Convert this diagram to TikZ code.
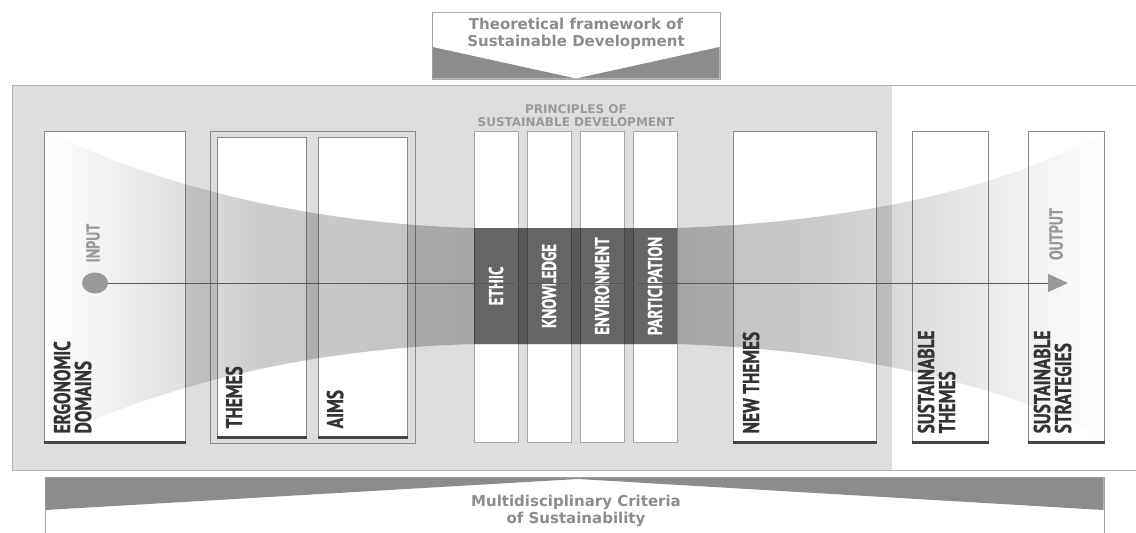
\documentclass[tikz,border=0pt]{standalone}
\usepackage{fontspec}
\setsansfont{DejaVu Sans}
\newfontfamily\condfont[FakeStretch=0.75, BoldFeatures={FakeBold=0.8}]{PT Sans}
\usepackage{tikz}
\usetikzlibrary{arrows.meta,shapes.geometric}

\definecolor{panelgray}{HTML}{DEDEDE}
\definecolor{edgegray}{HTML}{8A8A8A}
\definecolor{darkbar}{HTML}{444444}
\definecolor{labelgray}{HTML}{333333}
\definecolor{bandgray}{HTML}{8C8C8C}

\pgfdeclarehorizontalshading{funnelshade}{100bp}{color(0bp)=(white); color(25bp)=(white);
  color(35bp)=(black!20); color(45bp)=(black!25); color(55bp)=(black!25);
  color(61bp)=(black!21); color(75bp)=(white); color(100bp)=(white)}

\begin{document}
\begin{tikzpicture}[x=1pt, y=-1pt,
    box/.style = {draw=edgegray, fill=white, line width=1pt, inner sep=0pt},
    pbox/.style = {draw=black!35, fill=white, line width=.8pt, inner sep=0pt, minimum width=44pt, minimum height=311pt},
    lab/.style = {font=\condfont\bfseries\fontsize{23}{21}\selectfont, text=labelgray, rotate=90, anchor=north west, align=left, inner sep=0pt},
    plab/.style = {font=\condfont\bfseries\fontsize{20}{20}\selectfont, text=white, rotate=90, inner sep=0pt},
    io/.style = {font=\condfont\bfseries\fontsize{19}{19}\selectfont, text=black!40, rotate=90, inner sep=0pt},
    base/.style = {draw=darkbar, line width=3pt},
    head/.style = {font=\sffamily\bfseries\fontsize{15}{17}\selectfont, text=black!45, align=center, inner sep=0pt}]
        \useasboundingbox (0,0) rectangle (1136,533);

        % panel
        \fill[panelgray] (12,85) rectangle (892,470);
        \draw[black!30, line width=1pt] (1136,85) -- (12,85) -- (12,470) -- (1136,470);

        % theoretical framework
        \node[draw=black!35, fill=white, line width=1pt, minimum width=288pt, minimum height=67pt, inner sep=0pt] (frame) at (576,45.5) {};
        \fill[bandgray] (432.5,47) -- (576,78.5) -- (432.5,78.5) -- cycle;
        \fill[bandgray] (719.5,47) -- (576,78.5) -- (719.5,78.5) -- cycle;
        \node[head] (theory) at (576,34) {Theoretical framework of\\Sustainable Development};

        % multidisciplinary criteria
        \node[draw=black!35, fill=white, line width=1pt, minimum width=1059pt, minimum height=70pt, inner sep=0pt] (criteria) at (574.5,512) {};
        \fill[bandgray] (45.5,477.5) -- (45.5,510) -- (578,479) -- (1103.5,510) -- (1103.5,477.5) -- cycle;
        \node[head] (crit) at (576,511) {Multidisciplinary Criteria\\of Sustainability};

        % boxes
        \node[box, minimum width=141pt, minimum height=312pt] (erg) at (114.5,287) {};
        \node[box, minimum width=205pt, minimum height=312pt, fill=panelgray] (grp) at (312.5,287) {};
        \node[box, minimum width=89pt, minimum height=301pt] (thm) at (261.5,287.5) {};
        \node[box, minimum width=89pt, minimum height=301pt] (aim) at (362.5,287.5) {};
        \node[box, minimum width=143pt, minimum height=312pt] (new) at (804.5,287) {};
        \node[box, minimum width=76pt, minimum height=312pt] (sth) at (950,287) {};
        \node[box, minimum width=76pt, minimum height=312pt] (sst) at (1066,287) {};

        % principles
        \node[head, font=\sffamily\bfseries\fontsize{12}{13}\selectfont, text=black!40] (princ) at (576,116) {PRINCIPLES OF\\SUSTAINABLE DEVELOPMENT};
        \node[pbox] (eth) at (496,286.5) {};
        \node[pbox] (kno) at (549,286.5) {};
        \node[pbox] (env) at (602,286.5) {};
        \node[pbox] (par) at (655,286.5) {};

        % funnel
        \path[save path=\funnel] (50,133) .. controls (180,195) and (330,224) .. (474,228)
            -- (677,228) .. controls (850,222) and (1000,190) .. (1104,133)
            -- (1104,439) .. controls (1000,382) and (850,350) .. (677,344)
            -- (474,344) .. controls (330,348) and (180,377) .. (50,439) -- cycle;
        \begin{scope}[blend mode=multiply]
            \shade[shading=funnelshade] (50,133) .. controls (180,195) and (330,224) .. (474,228)
                -- (677,228) .. controls (850,222) and (1000,190) .. (1104,133)
                -- (1104,439) .. controls (1000,382) and (850,350) .. (677,344)
                -- (474,344) .. controls (330,348) and (180,377) .. (50,439) -- cycle;
            \begin{scope}
                \clip[use path=\funnel];
                \fill[black!47] (474,100) rectangle (677,460);
            \end{scope}
        \end{scope}

        % bottom bars
        \draw[base] ([yshift=1.5pt]erg.south west) -- ([yshift=1.5pt]erg.south east);
        \draw[base] ([yshift=1.5pt]thm.south west) -- ([yshift=1.5pt]thm.south east);
        \draw[base] ([yshift=1.5pt]aim.south west) -- ([yshift=1.5pt]aim.south east);
        \draw[base] ([yshift=1.5pt]new.south west) -- ([yshift=1.5pt]new.south east);
        \draw[base] ([yshift=1.5pt]sth.south west) -- ([yshift=1.5pt]sth.south east);
        \draw[base] ([yshift=1.5pt]sst.south west) -- ([yshift=1.5pt]sst.south east);

        % labels
        \node[lab] (ergl) at ([shift={(10pt,10pt)}]erg.south west) {ERGONOMIC\\DOMAINS};
        \node[lab] (thml) at ([shift={(9pt,10pt)}]thm.south west) {THEMES};
        \node[lab] (aiml) at ([shift={(9pt,10pt)}]aim.south west) {AIMS};
        \node[lab] (newl) at ([shift={(10pt,10pt)}]new.south west) {NEW THEMES};
        \node[lab] (sthl) at ([shift={(6pt,10pt)}]sth.south west) {SUSTAINABLE\\THEMES};
        \node[lab] (sstl) at ([shift={(6pt,10pt)}]sst.south west) {SUSTAINABLE\\STRATEGIES};
        \node[plab] (ethl) at (496,286) {ETHIC};
        \node[plab] (knol) at (549,286) {KNOWLEDGE};
        \node[plab] (envl) at (602,286) {ENVIRONMENT};
        \node[plab] (parl) at (655,286) {PARTICIPATION};

        % input - output axis
        \node[ellipse, fill=black!40, minimum width=26pt, minimum height=21pt, inner sep=0pt] (in) at (95,283) {};
        \coordinate (out) at (1068,283);
        \draw[black!65, line width=1pt, -{Triangle[length=20pt, width=18pt, color=black!40]}] (in) -- (out);
        \node[io] (inl) at (93,243) {INPUT};
        \node[io] (outl) at (1056,234) {OUTPUT};
      \end{tikzpicture}
\end{document}
